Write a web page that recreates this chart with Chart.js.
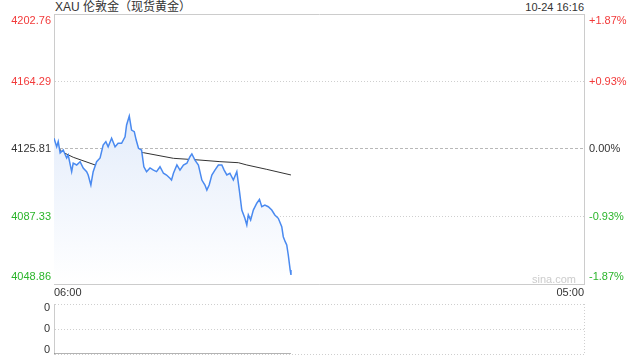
<!DOCTYPE html>
<html>
<head>
<meta charset="utf-8">
<script src="https://cdn.jsdelivr.net/npm/chart.js@4.4.1/dist/chart.umd.min.js"></script>
<style>
	body { margin: 0; background: #fff; }
	#wrap { position: relative; width: 640px; height: 360px; font-family: Arial, 'Liberation Sans', 'Noto Sans CJK SC', sans-serif; color: #333; }
	#priceChart { position: absolute; left: 0; top: 0; }
	#volChart { position: absolute; left: 0; top: 290px; }
	.title { position: absolute; left: 55px; top: 0; font-size: 12px; line-height: 15px; }
	.stamp { position: absolute; right: 56px; top: 0; font-size: 11px; line-height: 15px; }
	.mark { position: absolute; left: 532px; top: 273px; font-size: 11px; color: #ccc; }
</style>
</head>
<body>
<div id="wrap">
	<span class="title">XAU 伦敦金（现货黄金）</span>
	<span class="stamp">10-24 16:16</span>
	<canvas id="priceChart" width="640" height="300"></canvas>
	<span class="mark">sina.com</span>
	<canvas id="volChart" width="640" height="70"></canvas>
</div>
<script>
// minutes after 06:00
var priceTimes = [0, 7, 11, 16, 24, 33, 37, 46, 50, 59, 68, 76, 85, 89, 96, 102, 111, 120, 128, 135,
	141, 150, 159, 167, 176, 185, 189, 196, 202, 209, 214, 220, 228, 234, 241, 250, 259, 267, 276, 285,
	293, 302, 306, 311, 320, 328, 337, 346, 354, 359, 367, 376, 385, 393, 398, 404, 411, 419, 428, 437,
	443, 450, 458, 467, 476, 483, 489, 497, 502, 506, 512, 519, 528, 535, 541, 549, 558, 567, 575, 584,
	593, 597, 602, 606, 610, 615, 617];
var prices = [4131.9, 4127.1, 4130.0, 4123.5, 4125.2, 4120.7, 4122.4, 4112.9, 4117.8, 4116.7, 4118.6, 4115.0, 4112.9, 4111.0, 4105.3, 4112.9, 4118.6, 4120.7, 4128.1, 4130.0,
	4127.1, 4131.9, 4127.1, 4129.1, 4129.1, 4132.8, 4139.5, 4144.6, 4136.6, 4135.7, 4130.9, 4126.2, 4125.2, 4115.7, 4112.9, 4115.0, 4113.8, 4112.9, 4115.7, 4112.0,
	4111.0, 4109.1, 4108.1, 4112.0, 4116.7, 4113.8, 4116.7, 4117.7, 4121.4, 4123.0, 4119.5, 4116.7, 4108.1, 4105.3, 4102.4, 4105.3, 4111.0, 4113.8, 4116.7, 4116.7,
	4113.8, 4111.0, 4112.0, 4108.1, 4112.9, 4101.5, 4091.0, 4086.3, 4082.5, 4088.2, 4085.3, 4091.0, 4094.9, 4097.1, 4092.9, 4093.9, 4092.9, 4091.0, 4088.2, 4086.3,
	4081.5, 4075.8, 4073.0, 4071.1, 4065.4, 4056.8, 4054.0];
var avgTimes = [0, 20, 50, 107, 120, 189, 220, 233, 311, 380, 432, 480, 502, 554, 617];
var avgPrices = [4130.0, 4124.3, 4121.1, 4116.7, 4117.7, 4121.8, 4123.9, 4123.7, 4120.5, 4119.5, 4118.6, 4118.0, 4116.7, 4114.2, 4111.0];
var volTimes = [0, 617];
var volumes = [0, 0];

var priceTicks = [4048.86, 4087.33, 4125.81, 4164.29, 4202.76];
var pctLabels = ['-1.87%', '-0.93%', '0.00%', '+0.93%', '+1.87%'];
var tickColors = ['#2bb52b', '#2bb52b', '#333333', '#f23a3a', '#f23a3a'];
var timeTicks = [0, 1380];
var timeLabels = ['06:00', '05:00'];
var volTicks = [0, 1, 2];
var volLabels = ['0', '0', '0'];

var font = { family: "Arial, 'Liberation Sans', sans-serif", size: 11 };

function toPoints(xs, ys) {
	return xs.map(function (x, i) { return { x: x, y: ys[i] }; });
}

// first and last labels sit inside the frame
function inset(label, index, count) {
	if (index === 0) return [label, ''];
	if (index === count - 1) return ['', label];
	return label;
}

function noPad(s) {
	s.paddingTop = 0;
	s.paddingBottom = 0;
	s.paddingLeft = 0;
	s.paddingRight = 0;
}

new Chart(document.getElementById('priceChart'), {
	type: 'line',
	data: {
		datasets: [
			{
				data: toPoints(priceTimes, prices),
				borderColor: '#4a8af0',
				borderWidth: 1.5,
				pointRadius: 0,
				fill: 'start',
				backgroundColor: function (c) {
					var area = c.chart.chartArea;
					if (!area) return 'rgba(0,0,0,0)';
					var g = c.chart.ctx.createLinearGradient(0, area.top, 0, area.bottom);
					g.addColorStop(0, '#d3e1f8');
					g.addColorStop(1, '#ffffff');
					return g;
				},
				yAxisID: 'y',
			},
			{
				data: toPoints(avgTimes, avgPrices),
				borderColor: '#333333',
				borderWidth: 1,
				pointRadius: 0,
				fill: false,
				yAxisID: 'y',
			},
		],
	},
	options: {
		responsive: false,
		animation: false,
		events: [],
		layout: { padding: { top: 14, left: 0, right: 0, bottom: 0 } },
		plugins: { legend: { display: false }, tooltip: { enabled: false } },
		scales: {
			x: {
				type: 'linear',
				min: 0,
				max: 1380,
				afterBuildTicks: function (s) { s.ticks = timeTicks.map(function (v) { return { value: v }; }); },
				afterFit: function (s) { s.height = 16; noPad(s); },
				ticks: {
					callback: function (v, i) { return timeLabels[i]; },
					align: 'inner',
					autoSkip: false,
					maxRotation: 0,
					padding: 2,
					color: '#333',
					font: font,
				},
				grid: { display: false, drawTicks: false },
				border: { display: true, color: '#cccccc' },
			},
			y: {
				position: 'left',
				min: priceTicks[0],
				max: priceTicks[priceTicks.length - 1],
				afterBuildTicks: function (s) { s.ticks = priceTicks.map(function (v) { return { value: v }; }); },
				afterFit: function (s) { s.width = 54; noPad(s); },
				ticks: {
					callback: function (v, i) { return inset(priceTicks[i].toFixed(2), i, priceTicks.length); },
					autoSkip: false,
					padding: 3,
					color: function (c) { return tickColors[c.index]; },
					font: font,
				},
				grid: {
					drawTicks: false,
					color: function (c) {
						if (c.index === 0 || c.index === 4) return '#cccccc';
						if (c.index === 2) return '#b8b8b8';
						return '#cfcfcf';
					},
				},
				border: {
					display: true,
					color: '#cccccc',
					dash: function (c) {
						if (c.index === 0 || c.index === 4) return [];
						if (c.index === 2) return [3, 2];
						return [1, 2];
					},
				},
			},
			yr: {
				position: 'right',
				min: priceTicks[0],
				max: priceTicks[priceTicks.length - 1],
				afterBuildTicks: function (s) { s.ticks = priceTicks.map(function (v) { return { value: v }; }); },
				afterFit: function (s) { s.width = 56; noPad(s); },
				ticks: {
					callback: function (v, i) { return inset(pctLabels[i], i, pctLabels.length); },
					autoSkip: false,
					padding: 5,
					color: function (c) { return tickColors[c.index]; },
					font: font,
				},
				grid: { display: false, drawTicks: false },
				border: { display: true, color: '#cccccc' },
			},
		},
	},
});

new Chart(document.getElementById('volChart'), {
	type: 'line',
	data: {
		datasets: [
			{
				data: toPoints(volTimes, volumes),
				borderColor: '#666666',
				borderWidth: 1,
				pointRadius: 0,
				fill: false,
			},
		],
	},
	options: {
		responsive: false,
		animation: false,
		events: [],
		layout: { padding: { top: 14, left: 0, right: 56, bottom: 6 } },
		plugins: { legend: { display: false }, tooltip: { enabled: false } },
		scales: {
			x: {
				type: 'linear',
				min: 0,
				max: 1380,
				afterBuildTicks: function (s) { s.ticks = timeTicks.map(function (v) { return { value: v }; }); },
				afterFit: function (s) { s.height = 0; noPad(s); },
				ticks: { display: false },
				grid: {
					drawTicks: false,
					color: function (c) { return c.index === 0 ? 'rgba(0,0,0,0)' : '#cfcfcf'; },
				},
				border: { display: false, dash: [1, 2] },
			},
			y: {
				position: 'left',
				min: volTicks[0],
				max: volTicks[volTicks.length - 1],
				afterBuildTicks: function (s) { s.ticks = volTicks.map(function (v) { return { value: v }; }); },
				afterFit: function (s) { s.width = 54; noPad(s); },
				ticks: {
					callback: function (v, i) { return inset(volLabels[i], i, volLabels.length); },
					autoSkip: false,
					padding: 4,
					color: '#333',
					font: { family: font.family, size: 11, lineHeight: 0.75 },
				},
				grid: { drawTicks: false, color: '#cfcfcf' },
				border: { display: true, color: '#cccccc', dash: [1, 2] },
			},
		},
	},
});
</script>
</body>
</html>
